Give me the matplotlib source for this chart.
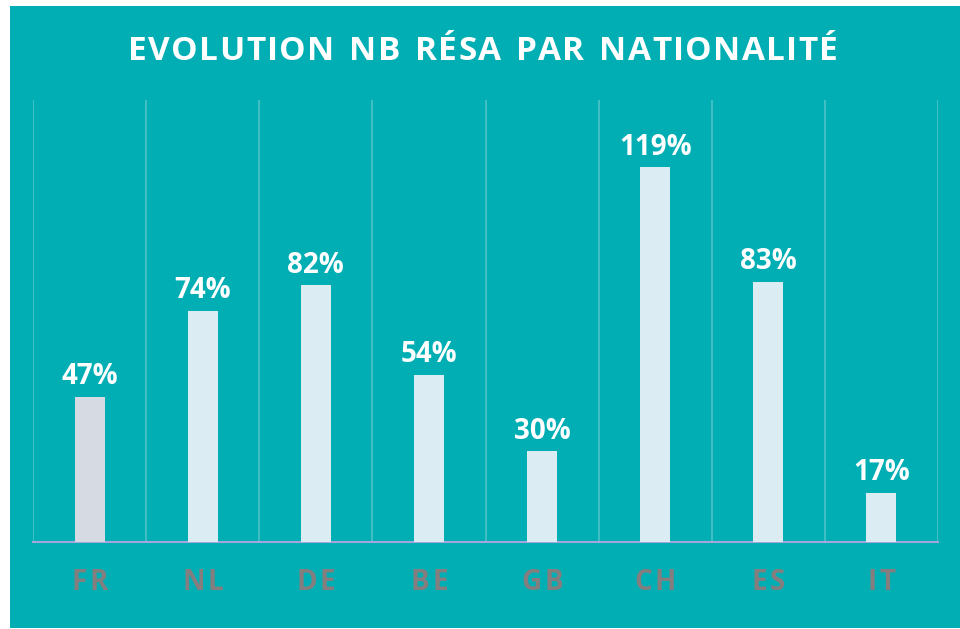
import matplotlib.pyplot as plt
from matplotlib.patches import Rectangle

# data
countries = ['FR', 'NL', 'DE', 'BE', 'GB', 'CH', 'ES', 'IT']
evolution = [47, 74, 82, 54, 30, 119, 83, 17]
labels = [f'{v}%' for v in evolution]
title = 'EVOLUTION NB RÉSA PAR NATIONALITÉ'

teal = '#00aeb4'
bar_color = '#dbedf2'
first_bar_color = '#d5dae3'
grid_color = '#4cc3c8'
tick_color = '#847e7f'

plt.rcParams['font.family'] = ['Open Sans', 'DejaVu Sans']

fig = plt.figure(figsize=(9.6, 6.29), dpi=100, facecolor='white')
renderer = fig.canvas.get_renderer()
W, H = fig.bbox.width, fig.bbox.height


def tracked_text(cx, cy, s, track=None, width_px=None, **kw):
    """Draw s centred at (cx, cy) pixels with extra letter spacing."""
    parts = [fig.text(0, 0, ch, va='center', ha='left', **kw) for ch in s]
    widths = [p.get_window_extent(renderer).width for p in parts]
    sp = fig.text(0, 0, 'n', **kw)
    sp_w = sp.get_window_extent(renderer).width * 0.55
    sp.remove()
    widths = [sp_w if ch == ' ' else w for ch, w in zip(s, widths)]
    if track is None:
        track = (width_px - sum(widths)) / max(len(s) - 1, 1)
    total = sum(widths) + track * (len(s) - 1)
    x = cx - total / 2
    for p, w in zip(parts, widths):
        p.set_position((x / W, cy / H))
        x += w + track


# teal panel with a thin white frame on the left / top
fig.patches.append(Rectangle((10 / 960, 1 / 629), 950 / 960, 622 / 629,
                             transform=fig.transFigure, facecolor=teal,
                             edgecolor='none', zorder=-1))

ax = fig.add_axes([33 / 960, 1 - 542 / 629, 905 / 960, 442 / 629])
ax.set_facecolor('none')

x = list(range(len(countries)))
colors = [first_bar_color] + [bar_color] * (len(countries) - 1)
bars = ax.bar(x, evolution, width=0.265, color=colors, zorder=3)

for rect, lab in zip(bars, labels):
    ax.annotate(lab, (rect.get_x() + rect.get_width() / 2, rect.get_height()),
                xytext=(0, 4), textcoords='offset points', ha='center',
                va='bottom', color='white', fontsize=20, fontweight='bold')

# vertical separators between categories
for k in range(len(countries) + 1):
    ax.axvline(k - 0.5, color=grid_color, lw=1.2, zorder=1)

ax.set_xlim(-0.5, len(countries) - 0.5)
ax.set_ylim(1.6, 140)
ax.set_yticks([])
ax.set_xticks(x)
ax.set_xticklabels([])
ax.tick_params(axis='x', length=0)
for side in ['top', 'left', 'right']:
    ax.spines[side].set_visible(False)
ax.spines['bottom'].set_color('#a3a6dc')
ax.spines['bottom'].set_linewidth(1.5)

# category labels, letter spaced
for i, c in enumerate(countries):
    px = ax.transData.transform((i, 0))[0]
    tracked_text(px, H - 583, c, track=3, color=tick_color, fontsize=20,
                 fontweight='bold')

tracked_text(483, H - 51, title, width_px=710, color='white', fontsize=24,
             fontweight='bold')

fig.savefig('out.png', dpi=100, facecolor='white')
